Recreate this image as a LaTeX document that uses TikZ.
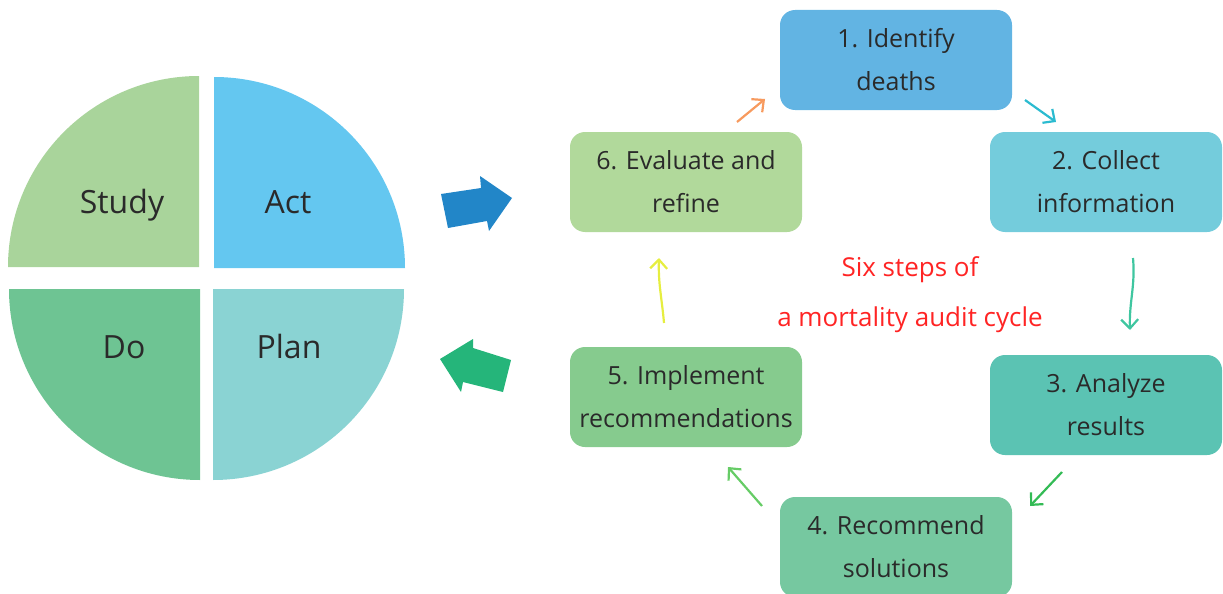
\documentclass[tikz,border=0pt]{standalone}
\usepackage{fontspec}
\setmainfont{Open Sans}
\usetikzlibrary{arrows.meta}
\definecolor{studyc}{HTML}{A9D49B}
\definecolor{actc}{HTML}{64C7F0}
\definecolor{doc}{HTML}{6EC493}
\definecolor{planc}{HTML}{8AD3D3}
\definecolor{boxa}{HTML}{62B4E3}
\definecolor{boxb}{HTML}{74CCDC}
\definecolor{boxc}{HTML}{5BC3B3}
\definecolor{boxd}{HTML}{76C8A0}
\definecolor{boxe}{HTML}{86CB8E}
\definecolor{boxf}{HTML}{B1D99B}
\definecolor{bigblue}{HTML}{2286C8}
\definecolor{biggreen}{HTML}{25B57A}
\definecolor{txt}{HTML}{2A2A2A}
\definecolor{redtxt}{HTML}{FF2424}
\begin{document}
\begin{tikzpicture}[x=1pt, y=-1pt,
  stepbox/.style={rounded corners=15pt, minimum width=232pt, minimum height=100pt,
    align=center, inner sep=0pt, text=txt, font=\fontsize{25}{43}\selectfont},
  pdca/.style={anchor=base, text=txt, font=\fontsize{32}{38}\selectfont},
  cyc/.style={line width=2.2pt, -{Straight Barb[length=9pt, width=17pt, line width=2.2pt]}}]
\useasboundingbox (0,0) rectangle (1223,594);

% PDCA wheel
\fill[studyc] (199,267) -- ++(-191,0) arc[start angle=180, end angle=270, radius=191] -- cycle;
\fill[actc] (214,268) -- ++(191,0) arc[start angle=0, end angle=-90, radius=191] -- cycle;
\fill[doc] (200,289) -- ++(-191,0) arc[start angle=180, end angle=90, radius=191] -- cycle;
\fill[planc] (213,289) -- ++(191,0) arc[start angle=0, end angle=90, radius=191] -- cycle;
\node[pdca] (study) at (122,213) {Study};
\node[pdca] (act) at (288,213) {Act};
\node[pdca] (do) at (124,358) {Do};
\node[pdca] (plan) at (289,358) {Plan};

% block arrows
\fill[bigblue] (441,194) -- (481,188) -- (480,176) -- (512,198) -- (489,231) -- (487,221) -- (448,228) -- cycle;
\fill[biggreen] (511,360) -- (473,348) -- (473,339) -- (440,359) -- (461,392) -- (463,382) -- (503,392) -- cycle;

% audit cycle
\node[stepbox, fill=boxa] (identify) at (896,60) {1. Identify\\deaths};
\node[stepbox, fill=boxb] (collect) at (1106,182) {2. Collect\\information};
\node[stepbox, fill=boxc] (analyze) at (1106,405) {3. Analyze\\results};
\node[stepbox, fill=boxd] (recommend) at (896,547) {4. Recommend\\solutions};
\node[stepbox, fill=boxe] (implement) at (686,397) {5. Implement\\recommendations};
\node[stepbox, fill=boxf] (evaluate) at (686,182) {6. Evaluate and\\refine};

\node[text=redtxt, font=\fontsize{26}{30}\selectfont] (title1) at (910,270) {Six steps of};
\node[text=redtxt, font=\fontsize{26}{30}\selectfont] (title2) at (910,320) {a mortality audit cycle};

\coordinate (a1) at (1025,100); \coordinate (b1) at (1056,122);
\coordinate (a2) at (1133,258); \coordinate (b2) at (1130,330);
\coordinate (a3) at (1062,472); \coordinate (b3) at (1030,506);
\coordinate (a4) at (762,506);  \coordinate (b4) at (728,467);
\coordinate (a5) at (664,323);  \coordinate (b5) at (659,258);
\coordinate (a6) at (737,122);  \coordinate (b6) at (765,99);
\draw[cyc, color={rgb,255:red,43;green,187;blue,208}] (a1) -- (b1);
\draw[cyc, color={rgb,255:red,63;green,198;blue,160}] (a2) to[out=-85, in=92] (b2);
\draw[cyc, color={rgb,255:red,51;green,187;blue,85}] (a3) -- (b3);
\draw[cyc, color={rgb,255:red,102;green,204;blue,102}] (a4) -- (b4);
\draw[cyc, color={rgb,255:red,230;green,238;blue,64}] (a5) to[out=95, in=-92] (b5);
\draw[cyc, color={rgb,255:red,247;green,154;blue,94}] (a6) -- (b6);

\end{tikzpicture}
\end{document}
